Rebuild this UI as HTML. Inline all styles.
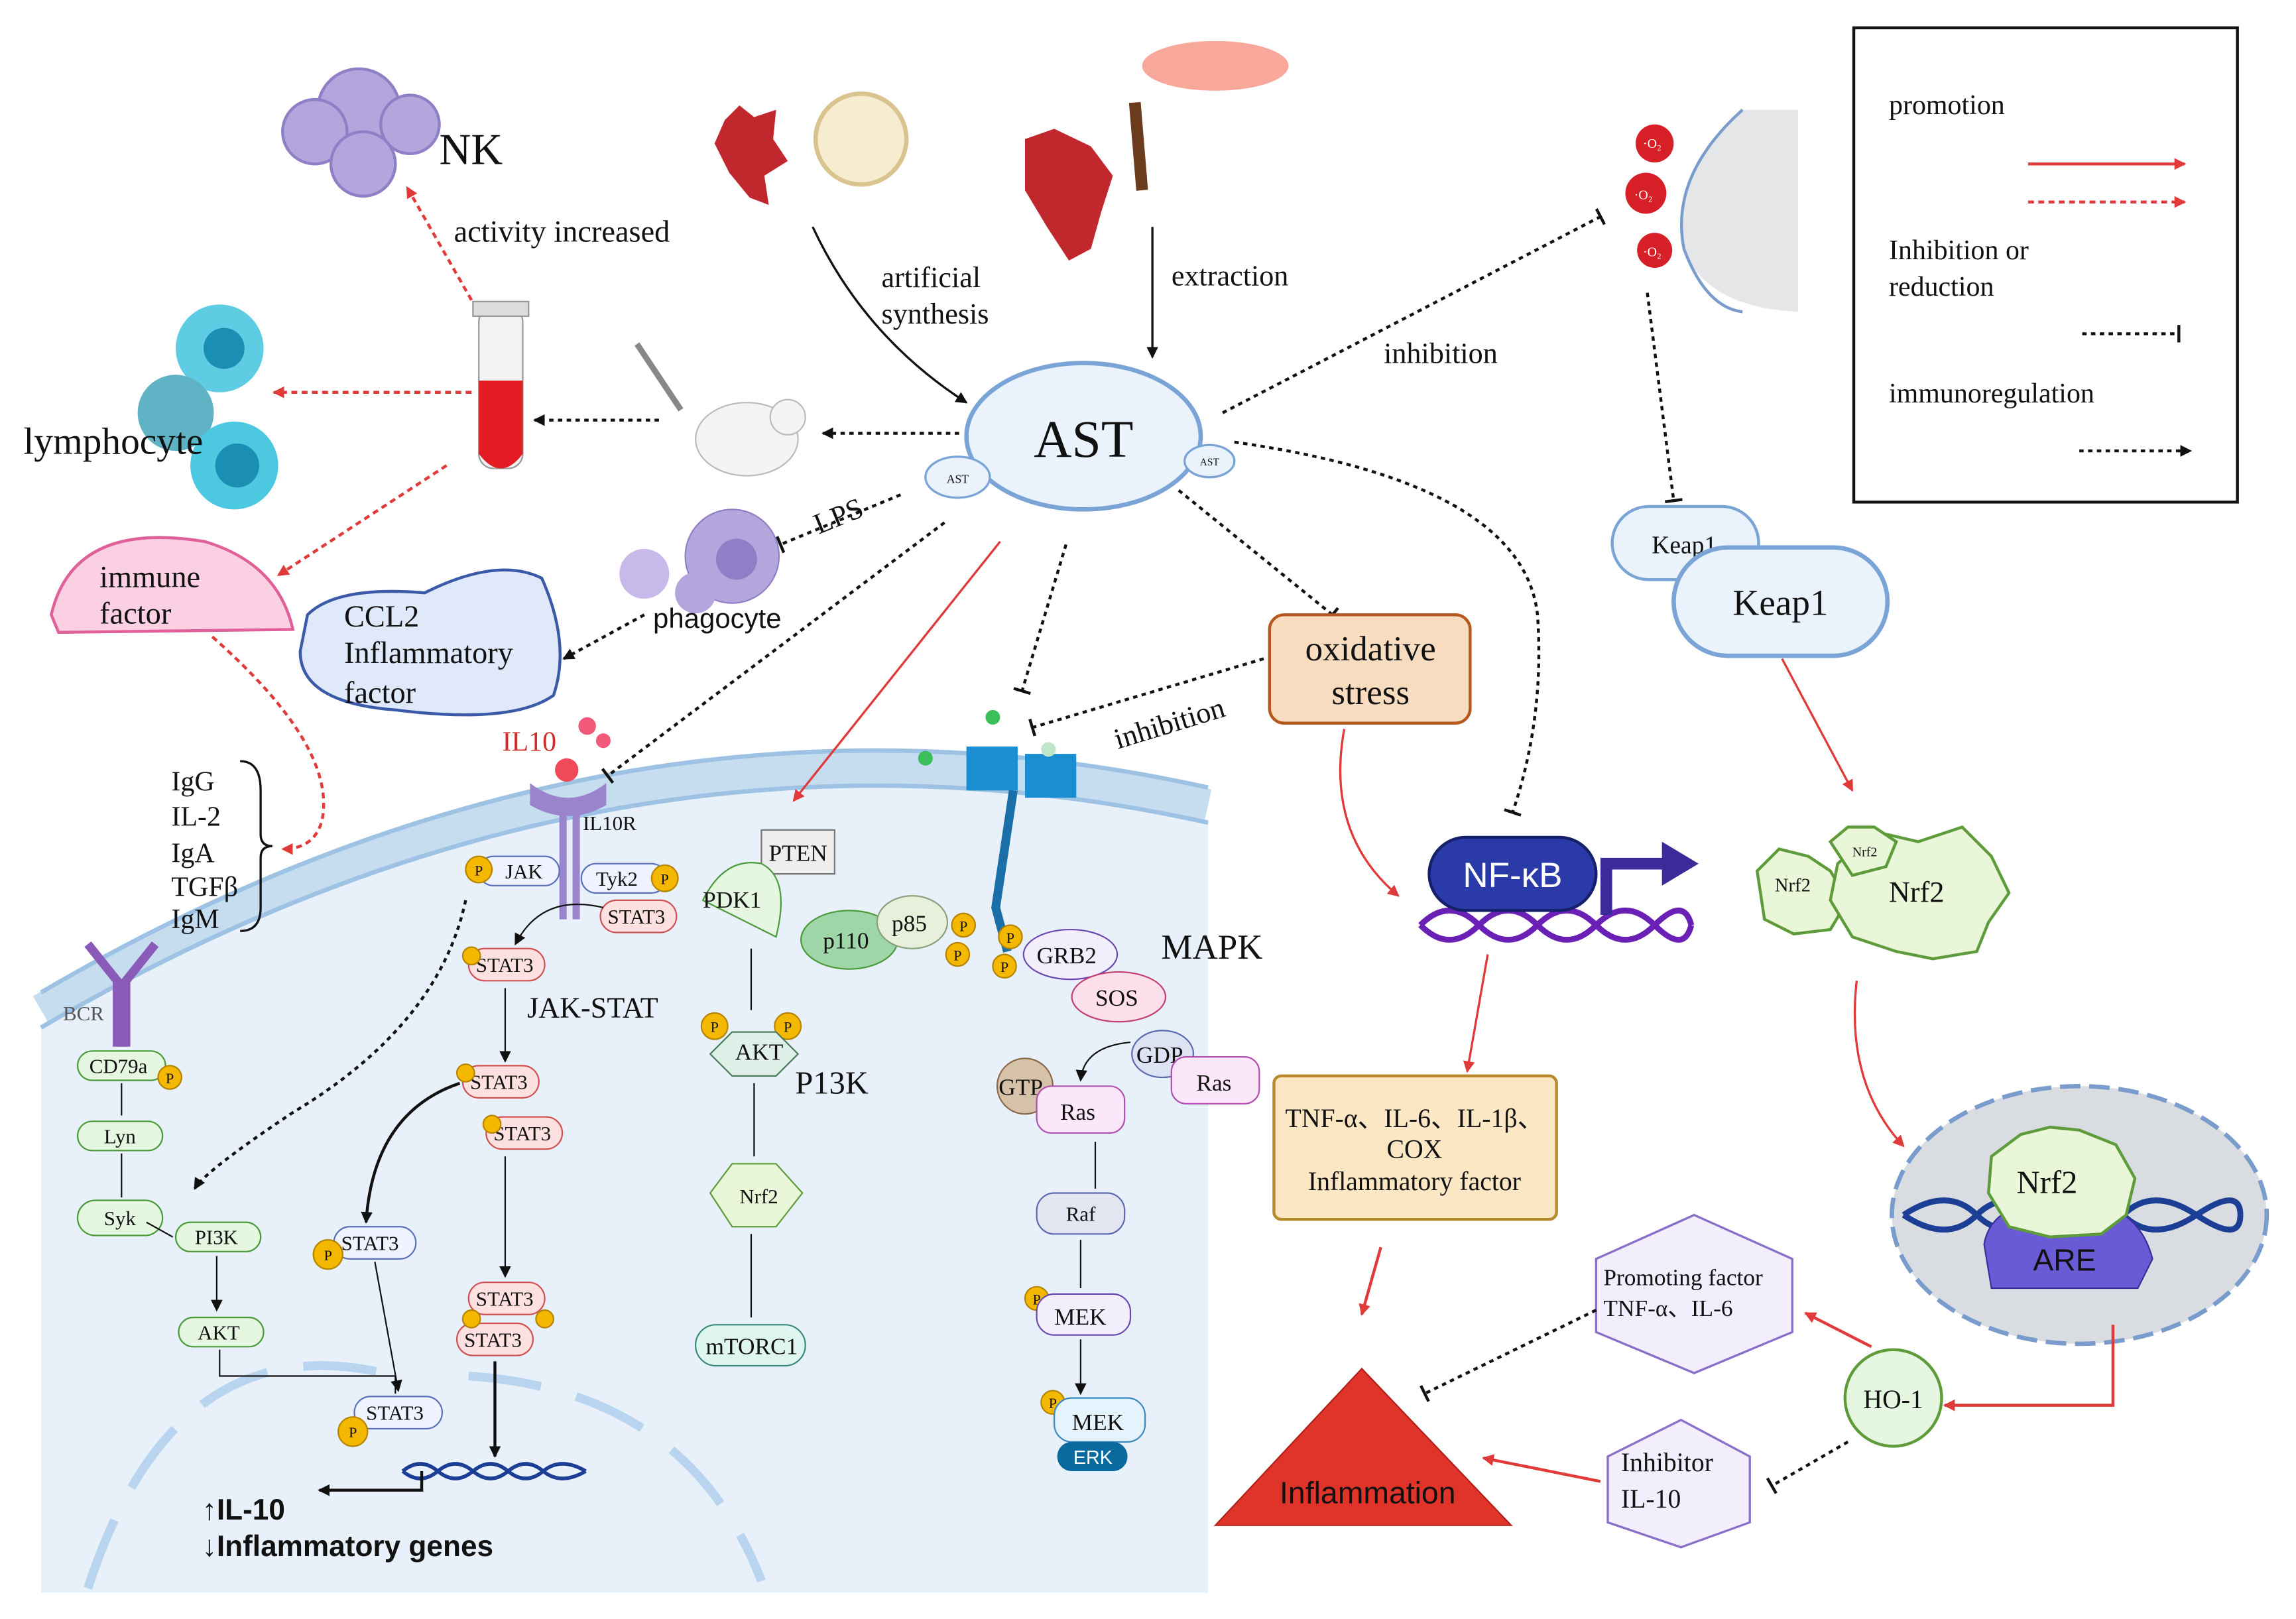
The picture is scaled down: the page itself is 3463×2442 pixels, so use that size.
<!DOCTYPE html>
<html><head><meta charset="utf-8"><style>
html,body{margin:0;padding:0;background:#fff}
svg{display:block}
text{font-family:"Liberation Serif",serif;fill:#111}
.s{font-family:"Liberation Sans",sans-serif}
</style></head><body>
<svg width="3463" height="2442" viewBox="0 0 1568 1106" preserveAspectRatio="none" xmlns="http://www.w3.org/2000/svg">
<defs>
<marker id="ar" markerWidth="8" markerHeight="8" refX="7" refY="4" orient="auto" markerUnits="userSpaceOnUse"><path d="M0,0 L8,4 L0,8 z" fill="#e03a3a"/></marker>
<marker id="ak" markerWidth="8" markerHeight="8" refX="7" refY="4" orient="auto" markerUnits="userSpaceOnUse"><path d="M0,0 L8,4 L0,8 z" fill="#111"/></marker>
<marker id="tb" markerWidth="4" markerHeight="12" refX="2" refY="6" orient="auto" markerUnits="userSpaceOnUse"><path d="M2,0 L2,12" stroke="#111" stroke-width="2"/></marker>
</defs>
<!-- cell -->
<path d="M28,700 Q420,470 825,560 L825,1088 L28,1088 Z" fill="#e8f1fa"/>
<path d="M28,690 Q420,460 825,550" fill="none" stroke="#c6dcef" stroke-width="22"/>
<path d="M28,678 Q420,448 825,538" fill="none" stroke="#9ec2e4" stroke-width="3"/>
<path d="M28,702 Q420,472 825,562" fill="none" stroke="#9ec2e4" stroke-width="3"/>
<path d="M60,1085 Q120,900 270,940 M320,940 Q470,950 520,1080" fill="none" stroke="#b8d4ee" stroke-width="6" stroke-dasharray="50,25"/>
<!-- legend -->
<rect x="1266" y="19" width="262" height="324" fill="#fff" stroke="#111" stroke-width="2"/>
<text x="1290" y="78" font-size="19">promotion</text>
<line x1="1385" y1="112" x2="1492" y2="112" stroke="#e03a3a" stroke-width="2" marker-end="url(#ar)"/>
<line x1="1385" y1="138" x2="1492" y2="138" stroke="#e03a3a" stroke-width="2" stroke-dasharray="4,3" marker-end="url(#ar)"/>
<text x="1290" y="177" font-size="19">Inhibition or</text>
<text x="1290" y="202" font-size="19">reduction</text>
<line x1="1422" y1="228" x2="1488" y2="228" stroke="#111" stroke-width="2" stroke-dasharray="3,3" marker-end="url(#tb)"/>
<text x="1290" y="275" font-size="19">immunoregulation</text>
<line x1="1420" y1="308" x2="1496" y2="308" stroke="#111" stroke-width="2" stroke-dasharray="3,3" marker-end="url(#ak)"/>
<!-- AST -->
<ellipse cx="740" cy="298" rx="80" ry="50" fill="#eaf2fb" stroke="#7aa3d6" stroke-width="3"/>
<text x="740" y="312" font-size="36" text-anchor="middle">AST</text>
<ellipse cx="654" cy="326" rx="22" ry="14" fill="#eaf2fb" stroke="#7aa3d6" stroke-width="1.5"/><text x="654" y="330" font-size="8" text-anchor="middle">AST</text>
<ellipse cx="826" cy="315" rx="17" ry="11" fill="#eaf2fb" stroke="#7aa3d6" stroke-width="1.5"/><text x="826" y="318" font-size="7" text-anchor="middle">AST</text>
<!-- sources -->
<g fill="#c0282e"><path d="M505,72 L515,80 L530,75 L528,95 L538,110 L522,120 L525,140 L512,135 L498,118 L488,98 L495,82 Z"/><path d="M700,95 L720,88 L745,100 L760,120 L752,145 L745,170 L730,178 L715,155 L700,130 Z"/></g>
<circle cx="588" cy="95" r="31" fill="#f6ecd0" stroke="#d9c38e" stroke-width="3"/>
<ellipse cx="830" cy="45" rx="50" ry="17" fill="#f7a89a"/>
<path d="M775,70 L780,130" stroke="#6b3b1e" stroke-width="8"/>
<path d="M555,155 Q590,230 660,275" fill="none" stroke="#111" stroke-width="1.5" marker-end="url(#ak)"/>
<text x="602" y="196" font-size="20">artificial</text><text x="602" y="221" font-size="20">synthesis</text>
<line x1="787" y1="155" x2="787" y2="244" stroke="#111" stroke-width="1.5" marker-end="url(#ak)"/>
<text x="800" y="195" font-size="20">extraction</text>
<!-- NK -->
<g fill="#b4a6dc" stroke="#8f7fc6" stroke-width="2"><circle cx="245" cy="75" r="28"/><circle cx="215" cy="90" r="22"/><circle cx="280" cy="85" r="20"/><circle cx="248" cy="112" r="22"/></g>
<text x="300" y="112" font-size="30">NK</text>
<text x="310" y="165" font-size="21">activity increased</text>
<line x1="322" y1="205" x2="278" y2="128" stroke="#e03a3a" stroke-width="2" stroke-dasharray="4,3" marker-end="url(#ar)"/>
<!-- tube -->
<rect x="327" y="210" width="30" height="110" rx="10" fill="#f2f2f2" stroke="#999"/>
<path d="M327,260 L357,260 L357,310 Q342,330 327,310 Z" fill="#e31b23"/>
<rect x="323" y="206" width="38" height="10" fill="#ddd" stroke="#999"/>
<!-- lymphocytes -->
<g><circle cx="150" cy="238" r="30" fill="#4cc8e0" opacity=".9"/><circle cx="153" cy="238" r="14" fill="#1b8eb3"/><circle cx="120" cy="282" r="26" fill="#5fb3c4"/><circle cx="160" cy="318" r="30" fill="#4cc8e0"/><circle cx="162" cy="318" r="15" fill="#1b8eb3"/></g>
<text x="16" y="310" font-size="26">lymphocyte</text>
<line x1="322" y1="268" x2="187" y2="268" stroke="#e03a3a" stroke-width="2" stroke-dasharray="4,3" marker-end="url(#ar)"/>
<line x1="450" y1="287" x2="365" y2="287" stroke="#111" stroke-width="2" stroke-dasharray="3,3" marker-end="url(#ak)"/>
<line x1="655" y1="296" x2="562" y2="296" stroke="#111" stroke-width="2" stroke-dasharray="3,3" marker-end="url(#ak)"/>
<!-- mouse -->
<ellipse cx="510" cy="300" rx="35" ry="25" fill="#f4f4f4" stroke="#bbb"/><circle cx="538" cy="285" r="12" fill="#f4f4f4" stroke="#bbb"/>
<line x1="435" y1="235" x2="465" y2="280" stroke="#888" stroke-width="4"/>
<!-- immune factor -->
<path d="M35,420 Q50,355 140,370 Q190,385 200,430 L40,432 Z" fill="#fbd0e2" stroke="#e0609a" stroke-width="2"/>
<text x="68" y="401" font-size="21">immune</text><text x="68" y="426" font-size="21">factor</text>
<line x1="305" y1="318" x2="190" y2="393" stroke="#e03a3a" stroke-width="2" stroke-dasharray="4,3" marker-end="url(#ar)"/>
<path d="M145,435 Q230,510 220,560 Q215,580 193,580" fill="none" stroke="#e03a3a" stroke-width="2" stroke-dasharray="4,3" marker-end="url(#ar)"/>
<!-- CCL2 -->
<path d="M210,420 Q230,400 290,405 Q340,380 370,395 Q390,440 378,475 Q350,495 270,485 Q205,480 205,445 Z" fill="#dfe9fa" stroke="#3a5aa8" stroke-width="2"/>
<text x="235" y="428" font-size="21">CCL2</text><text x="235" y="453" font-size="21">Inflammatory</text><text x="235" y="480" font-size="21">factor</text>
<!-- phagocyte -->
<circle cx="500" cy="380" r="32" fill="#b4a6dc" stroke="#8f7fc6"/><circle cx="503" cy="382" r="14" fill="#8f7fc6"/><circle cx="440" cy="392" r="17" fill="#c7b9ea"/><circle cx="475" cy="405" r="14" fill="#b4a6dc"/>
<text x="446" y="429" font-size="19" class="s">phagocyte</text>
<text x="555" y="360" font-size="20" transform="rotate(-22 570 352)">LPS</text>
<line x1="615" y1="338" x2="533" y2="372" stroke="#111" stroke-width="2" stroke-dasharray="3,3" marker-end="url(#tb)"/>
<line x1="440" y1="420" x2="385" y2="450" stroke="#111" stroke-width="2" stroke-dasharray="3,3" marker-end="url(#ak)"/>
<!-- lines from AST -->
<line x1="645" y1="357" x2="415" y2="530" stroke="#111" stroke-width="2" stroke-dasharray="3,3" marker-end="url(#tb)"/>
<line x1="683" y1="370" x2="542" y2="547" stroke="#e03a3a" stroke-width="1.5" marker-end="url(#ar)"/>
<line x1="728" y1="372" x2="698" y2="472" stroke="#111" stroke-width="2" stroke-dasharray="3,3" marker-end="url(#tb)"/>
<line x1="805" y1="335" x2="910" y2="420" stroke="#111" stroke-width="2" stroke-dasharray="3,3" marker-end="url(#tb)"/>
<path d="M843,302 Q1040,330 1050,420 Q1055,490 1033,555" fill="none" stroke="#111" stroke-width="2" stroke-dasharray="3,3" marker-end="url(#tb)"/>
<line x1="835" y1="282" x2="1093" y2="148" stroke="#111" stroke-width="2" stroke-dasharray="3,3" marker-end="url(#tb)"/>
<text x="945" y="248" font-size="20">inhibition</text>
<!-- ROS -->
<path d="M1228,75 L1190,75 Q1140,120 1150,170 Q1165,210 1228,213 Z" fill="#e4e6e8"/>
<path d="M1190,75 Q1140,120 1150,170 Q1165,210 1190,213" fill="none" stroke="#7a9ccc" stroke-width="2"/>
<g fill="#d61f26"><circle cx="1130" cy="98" r="13"/><circle cx="1124" cy="132" r="14"/><circle cx="1130" cy="171" r="12"/></g>
<g font-size="9"><text x="1122" y="101" style="fill:#fff">·O₂</text><text x="1116" y="136" style="fill:#fff">·O₂</text><text x="1122" y="175" style="fill:#fff">·O₂</text></g>
<line x1="1125" y1="200" x2="1143" y2="342" stroke="#111" stroke-width="2" stroke-dasharray="3,3" marker-end="url(#tb)"/>
<!-- Keap1 -->
<rect x="1101" y="346" width="100" height="50" rx="25" fill="#eaf2fb" stroke="#7aa3d6" stroke-width="2"/>
<text x="1128" y="378" font-size="17">Keap1</text>
<rect x="1143" y="374" width="146" height="74" rx="37" fill="#eaf2fb" stroke="#7aa3d6" stroke-width="3"/>
<text x="1216" y="420" font-size="25" text-anchor="middle">Keap1</text>
<line x1="1217" y1="450" x2="1265" y2="540" stroke="#e03a3a" stroke-width="1.5" marker-end="url(#ar)"/>
<!-- Nrf2 cluster -->
<g fill="#eaf6d8" stroke="#5e9b3a" stroke-width="2">
<path d="M1200,595 L1215,580 L1235,585 L1250,595 L1262,615 L1250,635 L1225,638 L1205,628 Z"/>
<path d="M1255,590 L1280,568 L1310,575 L1340,565 L1360,585 L1372,610 L1358,630 L1350,650 L1320,655 L1295,650 L1265,640 L1250,615 Z"/>
<path d="M1250,575 L1262,565 L1280,565 L1295,575 L1288,592 L1265,598 Z"/>
</g>
<text x="1212" y="609" font-size="13">Nrf2</text><text x="1265" y="585" font-size="9">Nrf2</text><text x="1290" y="616" font-size="20">Nrf2</text>
<path d="M1268,670 Q1260,740 1300,783" fill="none" stroke="#e03a3a" stroke-width="1.5" marker-end="url(#ar)"/>
<!-- nucleus right -->
<ellipse cx="1420" cy="830" rx="128" ry="88" fill="#d9dde2" stroke="#7a9ccc" stroke-width="3" stroke-dasharray="14,6"/>
<path d="M1300,830 Q1330,810 1350,830 T1400,830 T1450,830 T1500,830 T1530,830" fill="none" stroke="#1c3f95" stroke-width="4"/>
<path d="M1300,830 Q1330,850 1350,830 T1400,830 T1450,830 T1500,830 T1530,830" fill="none" stroke="#1c3f95" stroke-width="4"/>
<path d="M1355,850 Q1360,820 1410,818 Q1460,820 1470,860 L1460,880 L1360,880 Z" fill="#6b5ad6" stroke="#3a2f9a"/>
<text x="1410" y="868" font-size="21" class="s" text-anchor="middle">ARE</text>
<path d="M1360,790 L1380,775 L1400,770 L1420,772 L1445,782 L1458,805 L1452,830 L1435,843 L1400,845 L1372,838 L1358,815 Z" fill="#eaf6d8" stroke="#5e9b3a" stroke-width="2"/>
<text x="1398" y="815" font-size="22" text-anchor="middle">Nrf2</text>
<path d="M1443,905 L1443,960 L1328,960" fill="none" stroke="#e03a3a" stroke-width="2" marker-end="url(#ar)"/>
<!-- HO-1 -->
<circle cx="1293" cy="955" r="33" fill="#e5f7e0" stroke="#5e9b3a" stroke-width="2"/>
<text x="1293" y="962" font-size="18" text-anchor="middle">HO-1</text>
<line x1="1278" y1="920" x2="1233" y2="897" stroke="#e03a3a" stroke-width="2" marker-end="url(#ar)"/>
<line x1="1262" y1="985" x2="1210" y2="1015" stroke="#111" stroke-width="2" stroke-dasharray="3,3" marker-end="url(#tb)"/>
<polygon points="1157,830 1224,860 1224,910 1157,938 1090,910 1090,860" fill="#f3eefc" stroke="#8a6fc8" stroke-width="1.5"/>
<text x="1095" y="878" font-size="16">Promoting factor</text><text x="1095" y="899" font-size="16">TNF-α、IL-6</text>
<polygon points="1148,970 1195,995 1195,1040 1148,1057 1098,1040 1098,995" fill="#f3eefc" stroke="#8a6fc8" stroke-width="1.5"/>
<text x="1107" y="1005" font-size="18">Inhibitor</text><text x="1107" y="1030" font-size="18">IL-10</text>
<line x1="1090" y1="895" x2="973" y2="952" stroke="#111" stroke-width="2" stroke-dasharray="3,3" marker-end="url(#tb)"/>
<line x1="1093" y1="1012" x2="1013" y2="996" stroke="#e03a3a" stroke-width="2" marker-end="url(#ar)"/>
<!-- inflammation -->
<polygon points="930,935 1032,1042 830,1042" fill="#e0342a" stroke="#b0201a"/>
<text x="934" y="1027" font-size="21" class="s" text-anchor="middle">Inflammation</text>
<line x1="943" y1="852" x2="930" y2="898" stroke="#e03a3a" stroke-width="2" marker-end="url(#ar)"/>
<!-- oxidative stress -->
<rect x="867" y="420" width="137" height="74" rx="10" fill="#f7dcc0" stroke="#b5581c" stroke-width="2"/>
<text x="936" y="451" font-size="24" text-anchor="middle">oxidative</text><text x="936" y="481" font-size="24" text-anchor="middle">stress</text>
<path d="M918,498 Q905,570 955,612" fill="none" stroke="#e03a3a" stroke-width="1.5" marker-end="url(#ar)"/>
<line x1="863" y1="450" x2="705" y2="497" stroke="#111" stroke-width="2" stroke-dasharray="3,3" marker-end="url(#tb)"/>
<text x="758" y="500" font-size="20" transform="rotate(-17 800 488)">inhibition</text>
<!-- NF-kB -->
<path d="M970,632 Q990,612 1010,632 T1050,632 T1090,632 T1130,632 T1155,632" fill="none" stroke="#6a1fb5" stroke-width="4"/>
<path d="M970,632 Q990,652 1010,632 T1050,632 T1090,632 T1130,632 T1155,632" fill="none" stroke="#6a1fb5" stroke-width="4"/>
<path d="M1097,625 L1097,590 L1137,590" fill="none" stroke="#3a2a9a" stroke-width="8"/>
<polygon points="1135,575 1160,590 1135,605" fill="#3a2a9a"/>
<rect x="976" y="572" width="114" height="50" rx="25" fill="#2a3aa8" stroke="#151f6a" stroke-width="2"/>
<text x="1033" y="606" font-size="24" text-anchor="middle" class="s" style="fill:#fff">NF-κB</text>
<line x1="1016" y1="652" x2="1002" y2="732" stroke="#e03a3a" stroke-width="1.5" marker-end="url(#ar)"/>
<rect x="870" y="735" width="193" height="98" rx="5" fill="#fbe7c4" stroke="#b88a2e" stroke-width="2"/>
<text x="966" y="770" font-size="18" text-anchor="middle">TNF-α、IL-6、IL-1β、</text>
<text x="966" y="791" font-size="18" text-anchor="middle">COX</text>
<text x="966" y="813" font-size="18" text-anchor="middle">Inflammatory factor</text>
<!-- receptor channel -->
<rect x="660" y="510" width="35" height="30" fill="#1a8ed0"/><rect x="700" y="515" width="35" height="30" fill="#1a8ed0"/>
<path d="M692,540 L680,620 L688,650" stroke="#1a6fa8" stroke-width="6" fill="none"/>
<circle cx="678" cy="490" r="5" fill="#3bbf5a"/><circle cx="632" cy="518" r="5" fill="#3bbf5a"/><circle cx="716" cy="512" r="5" fill="#bfe6c8"/>
<!-- IL10 receptor -->
<text x="343" y="513" font-size="19" style="fill:#d12b2b">IL10</text>
<circle cx="401" cy="496" r="6" fill="#f05a78"/><circle cx="412" cy="506" r="5" fill="#f05a78"/><circle cx="387" cy="526" r="8" fill="#f04a5a"/>
<path d="M362,535 Q388,555 414,535 L414,550 Q388,565 362,550Z" fill="#9a84cc"/>
<rect x="382" y="548" width="5" height="80" fill="#9a84cc"/><rect x="391" y="548" width="5" height="80" fill="#9a84cc"/>
<text x="398" y="567" font-size="14">IL10R</text>
<g font-size="14">
<rect x="327" y="585" width="55" height="20" rx="10" fill="#eef3ff" stroke="#5a70b8"/><text x="345" y="600">JAK</text>
<rect x="397" y="590" width="58" height="20" rx="10" fill="#eef3ff" stroke="#5a70b8"/><text x="407" y="605">Tyk2</text>
<rect x="410" y="615" width="52" height="22" rx="11" fill="#fde0e0" stroke="#d05050"/><text x="415" y="631">STAT3</text>
<rect x="320" y="648" width="52" height="22" rx="11" fill="#fde0e0" stroke="#d05050"/><text x="325" y="664">STAT3</text>
<rect x="316" y="728" width="52" height="22" rx="11" fill="#fde0e0" stroke="#d05050"/><text x="321" y="744">STAT3</text>
<rect x="332" y="763" width="52" height="22" rx="11" fill="#fde0e0" stroke="#d05050"/><text x="337" y="779">STAT3</text>
<rect x="320" y="876" width="52" height="22" rx="11" fill="#fde0e0" stroke="#d05050"/><text x="325" y="892">STAT3</text>
<rect x="312" y="904" width="52" height="22" rx="11" fill="#fde0e0" stroke="#d05050"/><text x="317" y="920">STAT3</text>
<rect x="228" y="838" width="56" height="22" rx="11" fill="#eef3ff" stroke="#5a70b8"/><text x="233" y="854">STAT3</text>
<rect x="242" y="954" width="60" height="22" rx="11" fill="#eef3ff" stroke="#5a70b8"/><text x="250" y="970">STAT3</text>
<rect x="53" y="718" width="60" height="20" rx="10" fill="#e5f7e0" stroke="#4a9a3a"/><text x="61" y="733">CD79a</text>
<rect x="53" y="766" width="58" height="20" rx="10" fill="#e5f7e0" stroke="#4a9a3a"/><text x="71" y="781">Lyn</text>
<rect x="53" y="820" width="58" height="24" rx="12" fill="#e5f7e0" stroke="#4a9a3a"/><text x="71" y="837">Syk</text>
<rect x="120" y="835" width="58" height="20" rx="10" fill="#e5f7e0" stroke="#4a9a3a"/><text x="133" y="850">PI3K</text>
<rect x="122" y="900" width="58" height="20" rx="10" fill="#e5f7e0" stroke="#4a9a3a"/><text x="135" y="915">AKT</text>
</g>
<g fill="#f5b800" stroke="#b58400"><circle cx="327" cy="594" r="9"/><circle cx="454" cy="600" r="9"/><circle cx="116" cy="736" r="8"/><circle cx="224" cy="857" r="10"/><circle cx="241" cy="978" r="10"/><circle cx="322" cy="653" r="6"/><circle cx="318" cy="733" r="6"/><circle cx="336" cy="768" r="6"/><circle cx="322" cy="901" r="6"/><circle cx="372" cy="901" r="6"/>
<circle cx="488" cy="701" r="9"/><circle cx="538" cy="701" r="9"/><circle cx="658" cy="632" r="8"/><circle cx="654" cy="652" r="8"/><circle cx="690" cy="640" r="8"/><circle cx="686" cy="660" r="8"/><circle cx="708" cy="887" r="8"/><circle cx="719" cy="958" r="8"/></g>
<g font-size="10" class="s" text-anchor="middle"><text x="327" y="598">P</text><text x="454" y="604">P</text><text x="116" y="740">P</text><text x="224" y="861">P</text><text x="241" y="982">P</text><text x="488" y="705">P</text><text x="538" y="705">P</text><text x="658" y="636">P</text><text x="654" y="656">P</text><text x="690" y="644">P</text><text x="686" y="664">P</text><text x="708" y="891">P</text><text x="719" y="962">P</text></g>
<text x="360" y="695" font-size="20">JAK-STAT</text>
<path d="M345,675 L345,725" stroke="#111" marker-end="url(#ak)"/>
<path d="M345,790 L345,872" stroke="#111" marker-end="url(#ak)"/>
<path d="M338,930 L338,995" stroke="#111" stroke-width="2" marker-end="url(#ak)"/>
<path d="M314,740 Q255,760 250,835" fill="none" stroke="#111" stroke-width="2" marker-end="url(#ak)"/>
<path d="M256,862 L272,950" stroke="#111" marker-end="url(#ak)"/>
<path d="M412,620 Q370,610 352,645" fill="none" stroke="#111" marker-end="url(#ak)"/>
<path d="M318,615 Q300,700 200,760 Q140,800 133,812" fill="none" stroke="#111" stroke-width="2" stroke-dasharray="3,3" marker-end="url(#ak)"/>
<path d="M150,922 L150,940 L270,940 L270,952" fill="none" stroke="#111"/>
<path d="M83,740 L83,762 M83,788 L83,818 M100,835 L118,845 M148,858 L148,895" stroke="#111" marker-end="url(#ak)"/>
<path d="M275,1005 Q287,995 299,1005 T323,1005 T347,1005 T371,1005 T400,1005" fill="none" stroke="#1c3f95" stroke-width="2.5"/>
<path d="M275,1005 Q287,1015 299,1005 T323,1005 T347,1005 T371,1005 T400,1005" fill="none" stroke="#1c3f95" stroke-width="2.5"/>
<path d="M288,1005 L288,1018 L218,1018" fill="none" stroke="#111" stroke-width="2" marker-end="url(#ak)"/>
<text x="138" y="1038" font-size="20" class="s" font-weight="bold">↑IL-10</text>
<text x="138" y="1063" font-size="20" class="s" font-weight="bold">↓Inflammatory genes</text>
<!-- Ig -->
<g font-size="19"><text x="117" y="540">IgG</text><text x="117" y="564">IL-2</text><text x="117" y="589">IgA</text><text x="117" y="612">TGFβ</text><text x="117" y="634">IgM</text></g>
<path d="M164,520 Q178,520 178,540 L178,570 Q178,578 186,578 Q178,578 178,586 L178,620 Q178,636 164,636" fill="none" stroke="#111" stroke-width="1.5"/>
<path d="M80,715 L80,670 L60,645 M86,715 L86,670 L106,645" stroke="#8a5ab8" stroke-width="6" fill="none"/>
<text x="43" y="697" font-size="14" style="fill:#555">BCR</text>
<!-- PI3K pathway -->
<g font-size="16">
<rect x="520" y="567" width="50" height="30" fill="#eee" stroke="#777"/><text x="525" y="588">PTEN</text>
<path d="M480,615 Q495,585 520,590 Q540,600 530,640 Q500,625 480,615Z" fill="#e5f7e0" stroke="#4a9a3a"/><text x="480" y="620">PDK1</text>
<ellipse cx="580" cy="642" rx="33" ry="20" fill="#9ed6a8" stroke="#4a9a3a"/><text x="562" y="648">p110</text>
<ellipse cx="623" cy="630" rx="24" ry="18" fill="#e8f0dc" stroke="#8aa07a"/><text x="609" y="636">p85</text>
<path d="M485,720 L500,705 L530,705 L545,720 L530,735 L500,735Z" fill="#dff0e8" stroke="#4a7a5a"/><text x="502" y="724">AKT</text>
<path d="M485,815 L500,795 L530,795 L548,815 L530,838 L500,838Z" fill="#eaf6d8" stroke="#5e9b3a"/><text x="505" y="822" font-size="14">Nrf2</text>
<rect x="475" y="905" width="75" height="28" rx="14" fill="#dff5f0" stroke="#3a8a7a"/><text x="482" y="925">mTORC1</text>
<ellipse cx="731" cy="652" rx="32" ry="17" fill="#f3eefc" stroke="#6a4ab0"/><text x="708" y="658">GRB2</text>
<ellipse cx="764" cy="681" rx="32" ry="17" fill="#fde0ec" stroke="#c04070"/><text x="748" y="687">SOS</text>
<ellipse cx="794" cy="720" rx="21" ry="16" fill="#dde3f3" stroke="#5a6ab0"/><text x="776" y="726">GDP</text>
<rect x="800" y="722" width="60" height="32" rx="10" fill="#fbe6fa" stroke="#b050b0"/><text x="817" y="745">Ras</text>
<circle cx="700" cy="742" r="19" fill="#d6c2a8" stroke="#8a6a4a"/><text x="682" y="748">GTP</text>
<rect x="708" y="742" width="60" height="32" rx="10" fill="#fbe6fa" stroke="#b050b0"/><text x="724" y="765">Ras</text>
<rect x="708" y="815" width="60" height="28" rx="12" fill="#e3e6f0" stroke="#5a6ab0"/><text x="728" y="834" font-size="14">Raf</text>
<rect x="708" y="884" width="64" height="28" rx="12" fill="#f3eefc" stroke="#6a4ab0"/><text x="720" y="905">MEK</text>
<rect x="720" y="955" width="62" height="30" rx="12" fill="#e5f4fc" stroke="#3a8ac0"/><text x="732" y="977">MEK</text>
<rect x="722" y="985" width="48" height="20" rx="10" fill="#0a6aa0"/><text x="733" y="1000" font-size="13" class="s" style="fill:#fff">ERK</text>
</g>
<text x="543" y="747" font-size="22">P13K</text>
<text x="793" y="655" font-size="24">MAPK</text>
<path d="M513,648 L513,690 M515,740 L515,790 M513,843 L513,900 M748,780 L748,812 M738,847 L738,880 M738,915 L738,952" stroke="#111" marker-end="url(#ak)"/>
<path d="M772,712 Q740,715 738,738" fill="none" stroke="#111" marker-end="url(#ak)"/>
</svg>
</body></html>
